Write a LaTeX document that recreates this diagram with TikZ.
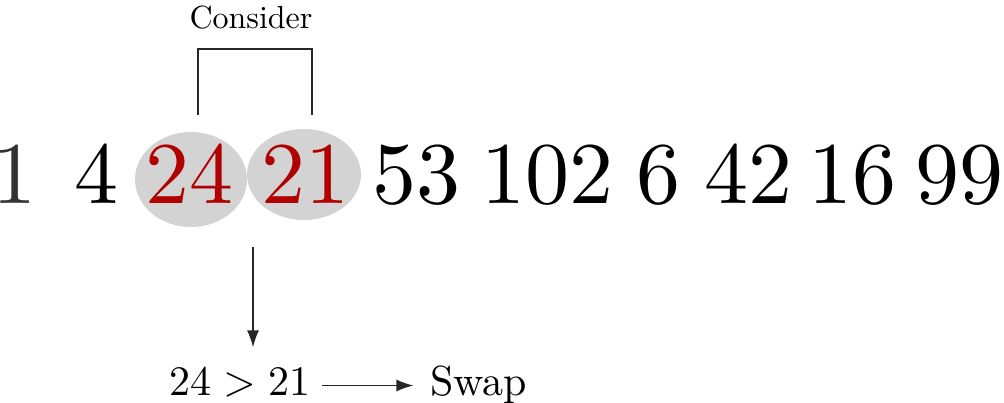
\documentclass[tikz,border=0pt]{standalone}
\usepackage{amsmath}
\usepackage{fontspec}
\setmainfont{lmroman10-regular.otf}
\usepackage{tikz}
\usetikzlibrary{arrows.meta, positioning}
\definecolor{hlgray}{HTML}{D3D3D3}
\definecolor{pickred}{HTML}{B00000}
\newcommand\bignum[1]{\fontsize{88}{100}\selectfont #1}
\newcommand\midsz{\fontsize{42}{50}\selectfont}

\begin{document}
\begin{tikzpicture}[x=1pt, y=-1pt,
  num/.style = {inner sep=0pt, anchor=base},
  conn/.style = {line width=1.4pt, draw=black!85},
  tip/.style = {-{Latex[length=17pt, width=12pt]}}]
\useasboundingbox (0,0) rectangle (1004,402);
\fill[hlgray] (191,179.5) ellipse [x radius=56, y radius=47.5];
\fill[hlgray] (304,174.5) ellipse [x radius=57, y radius=45.5];
\node[num, text=black!80] (n1) at (15,203) {\bignum{1}};
\node[num] (n2) at (96.5,203) {\bignum{4}};
\node[num, text=pickred] (n3) at (189.5,203) {\bignum{24}};
\node[num, text=pickred] (n4) at (305,203) {\bignum{21}};
\node[num] (n5) at (416.5,203) {\bignum{53}};
\node[num] (n6) at (547,203) {\bignum{102}};
\node[num] (n7) at (658,203) {\bignum{6}};
\node[num] (n8) at (748,203) {\bignum{42}};
\node[num] (n9) at (852.5,203) {\bignum{16}};
\node[num] (n10) at (959,203) {\bignum{99}};
\node[num, font=\fontsize{32}{38}\selectfont] (lbl) at (251,28) {Consider};
\coordinate (bl) at (198,115);
\coordinate (br) at (312,115);
\draw[conn] (bl) -- ++(0,-66) -| (br);
\node[num, font=\midsz] (cmp) at (240,395) {24\hspace{0.28em}>\hspace{0.28em}21};
\node[num, font=\midsz] (swap) at (478.5,395) {Swap};
\coordinate (mid) at (253,247);
\draw[conn, tip, shorten >=19pt] (mid) -- (mid |- cmp.north);
\draw[conn, tip, shorten <=12pt, shorten >=16.5pt] ([yshift=9.5pt]cmp.base east) -- ([yshift=9.5pt]swap.base west);
\end{tikzpicture}
\end{document}
